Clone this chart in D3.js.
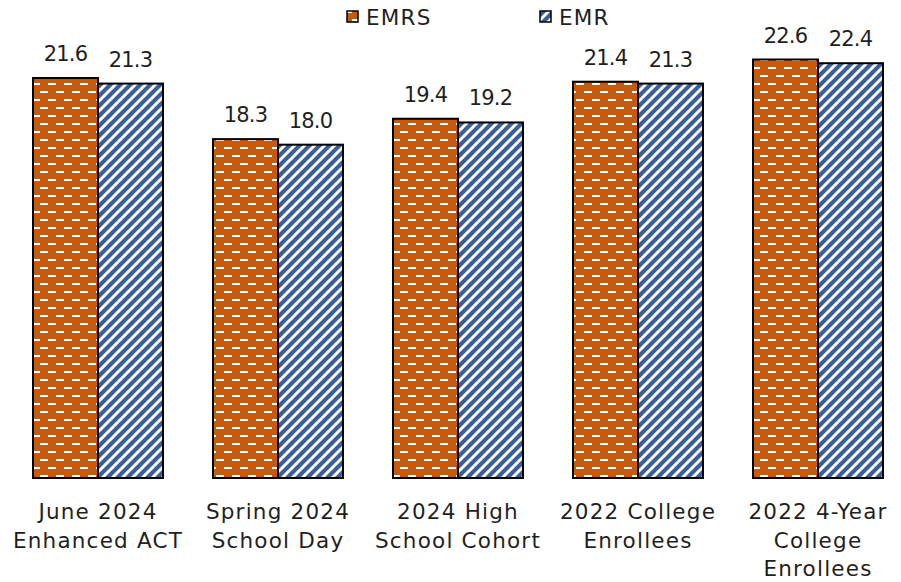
<!DOCTYPE html>
<html><head><meta charset="utf-8">
<script src="https://cdn.jsdelivr.net/npm/d3@7"></script>
<style>body{margin:0;background:#fff}svg{display:block}text{font-family:"DejaVu Sans",sans-serif;fill:#1f1f1f}</style>
</head><body><svg id="c" width="901" height="582"></svg>
<script>
const categories = [["June 2024","Enhanced ACT"],["Spring 2024","School Day"],["2024 High","School Cohort"],["2022 College","Enrollees"],["2022 4-Year","College","Enrollees"]];
const seriesNames = ["EMRS","EMR"];
const emrs = [21.6,18.3,19.4,21.4,22.6];
const emr = [21.3,18.0,19.2,21.3,22.4];

const svg = d3.select("#c");
const defs = svg.append("defs");
const p1 = defs.append("pattern").attr("id","pEMRS").attr("patternUnits","userSpaceOnUse").attr("width",16).attr("height",16);
p1.append("rect").attr("width",16).attr("height",16).attr("fill","#C55A11");
p1.append("rect").attr("x",0).attr("y",3).attr("width",8).attr("height",2).attr("fill","#fff");
p1.append("rect").attr("x",8).attr("y",11).attr("width",8).attr("height",2).attr("fill","#fff");
const P = 10;
const p2 = defs.append("pattern").attr("id","pEMR").attr("patternUnits","userSpaceOnUse").attr("width",P).attr("height",P);
p2.append("rect").attr("width",P).attr("height",P).attr("fill","#3A5E9C");
p2.append("path").attr("d",`M-2,${P+2} L${P+2},-2 M-2,2 L2,-2 M${P-2},${P+2} L${P+2},${P-2}`).attr("stroke","#fff").attr("stroke-width",3);
const fills = ["url(#pEMRS)","url(#pEMR)"];

const x0 = d3.scaleBand().domain(d3.range(categories.length)).range([8,908]).paddingInner(50/180).paddingOuter(25/180);
const x1 = d3.scaleBand().domain([0,1]).range([0,x0.bandwidth()]);
const y = d3.scaleLinear().domain([0,22.6]).range([478,59.5]);

const data = [emrs, emr];
const g = svg.append("g");
categories.forEach((c,i)=>{
  [0,1].forEach(s=>{
    const v = data[s][i];
    g.append("rect").attr("x",x0(i)+x1(s)).attr("y",y(v)).attr("width",x1.bandwidth()).attr("height",y(0)-y(v))
      .attr("fill",fills[s]).attr("stroke","#000").attr("stroke-width",2);
    g.append("text").attr("x",x0(i)+x1(s)+x1.bandwidth()/2).attr("y",y(v)-17).attr("text-anchor","middle")
      .attr("font-size",21).attr("letter-spacing",-0.8).text(v.toFixed(1));
  });
  const t = g.append("text").attr("text-anchor","middle").attr("font-size",21.5).attr("letter-spacing",1.2);
  c.forEach((line,k)=>t.append("tspan").attr("x",x0(i)+x0.bandwidth()/2).attr("y",519+k*28.5).text(line));
});

const legX = [347,540];
seriesNames.forEach((n,s)=>{
  svg.append("rect").attr("x",legX[s]).attr("y",11).attr("width",11).attr("height",11).attr("fill",fills[s]).attr("stroke","#000").attr("stroke-width",1.5);
  svg.append("text").attr("x",legX[s]+19).attr("y",24.5).attr("font-size",21.5).attr("letter-spacing",1.2).text(n);
});
</script></body></html>
